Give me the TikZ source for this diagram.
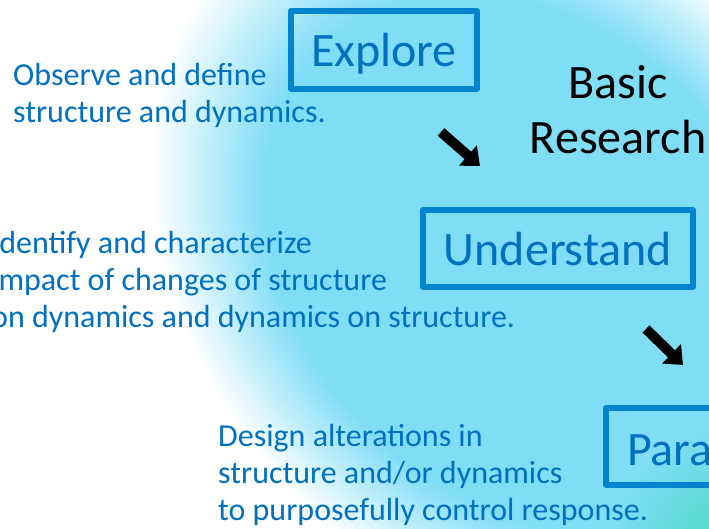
\documentclass[tikz,border=0pt]{standalone}
\usepackage{fontspec}
\setmainfont{Carlito}
\usetikzlibrary{arrows.meta,positioning,calc}

\definecolor{boxblue}{RGB}{0,132,206}
\definecolor{noteblue}{RGB}{0,112,192}
\definecolor{blobblue}{RGB}{128,221,246}
\definecolor{blobgreen}{RGB}{64,218,184}

% flat blue inside, soft fade to white at the rim
\pgfdeclareradialshading{blobfade}{\pgfpoint{0bp}{0bp}}{%
  color(0bp)=(blobblue); color(17.5bp)=(blobblue);
  color(25bp)=(white); color(50bp)=(white)}

\tikzset{
  stage/.style={draw=boxblue,line width=6pt,line join=round,text=noteblue,
    inner sep=0pt,text height=40pt,text depth=6pt,
    font=\fontsize{48}{56}\selectfont},
  note/.style={text=noteblue,align=left,anchor=north west,inner sep=0pt,
    font=\fontsize{32}{37}\selectfont},
  phase/.style={align=center,inner sep=0pt,font=\fontsize{48}{55}\selectfont},
  flow/.style={line width=10pt,-{Triangle[width=26pt,length=16pt]}}
}

\begin{document}
\begin{tikzpicture}[x=1pt,y=-1pt]
  \useasboundingbox (0,0) rectangle (709,529);
  \clip (0,0) rectangle (709,529);
  \fill[white] (0,0) rectangle (709,529);

  % background blob and the green corner
  \begin{scope}[transform canvas={shift={(528,262)},rotate=-47,xscale=1.29}]
    \shade[shading=blobfade] (0,0) circle [radius=330pt];
  \end{scope}
  \shade[inner color=blobgreen,outer color=blobblue] (745,560) circle [radius=140pt];

  % stages
  \node[stage,minimum width=186pt,minimum height=78pt] (explore) at (384,50) {Explore};
  \node[stage,minimum width=270pt,minimum height=77pt] (understand) at (558,248.5) {Understand};
  \node[stage,anchor=west,align=left,text width=170pt,inner xsep=21pt,
    minimum height=77pt,text height=42pt,text depth=4pt] (para) at (603,446.5) {Para};

  \node[phase,anchor=north] (basic) at (618,65) {Basic\\Research};

  % notes
  \node[note] (observe) at (13,63) {Observe and define\\structure and dynamics.};
  \node[note] (identify) at (-9,231) {Identify and characterize\\impact of changes of structure\\on dynamics and dynamics on structure.};
  \node[note] (design) at (218,424) {Design alterations in\\structure and/or dynamics\\to purposefully control response.};

  % arrows between the stages
  \coordinate (e2u) at (441,132);
  \coordinate (e2u end) at (480,166);
  \coordinate (u2p) at (646,329);
  \coordinate (u2p end) at (683,365);
  \draw[flow] (e2u) -- (e2u end);
  \draw[flow] (u2p) -- (u2p end);
\end{tikzpicture}
\end{document}
